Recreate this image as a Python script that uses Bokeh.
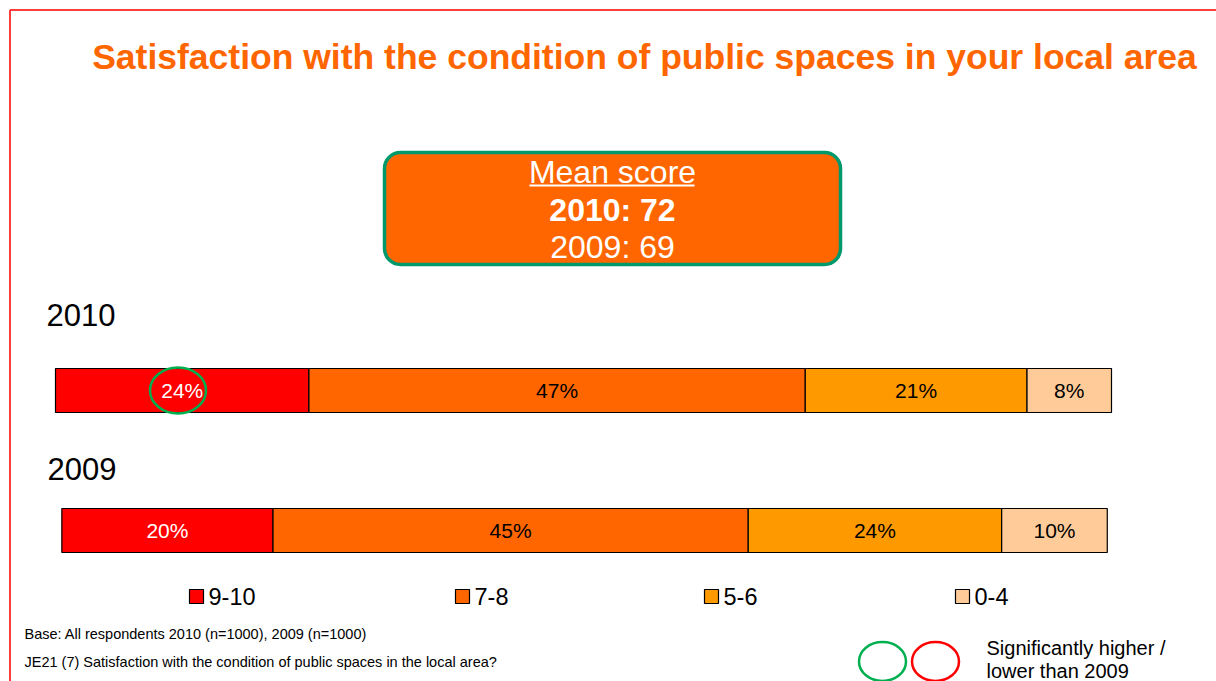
from bokeh.plotting import figure
from bokeh.models import Range1d, BoxAnnotation
from bokeh.embed import file_html
from bokeh.resources import INLINE
from bokeh.core.properties import value

# ---------------- data ----------------
years = ["2010", "2009"]
bands = ["9-10", "7-8", "5-6", "0-4"]
v_9_10 = [24, 20]
v_7_8 = [47, 45]
v_5_6 = [21, 24]
v_0_4 = [8, 10]
band_colors = ["#FF0000", "#FF6600", "#FF9900", "#FFCC99"]
label_colors = ["white", "black", "black", "black"]
mean_2010 = 72
mean_2009 = 69
title = "Satisfaction with the condition of public spaces in your local area"
base_note = "Base: All respondents 2010 (n=1000), 2009 (n=1000)"
question_note = "JE21 (7) Satisfaction with the condition of public spaces in the local area?"
sig_note = ["Significantly higher /", "lower than 2009"]
sig_higher = [(0, 0)]  # (year index, band index)

# ---------------- layout helpers ----------------
W, H = 1216, 681
PX = 10.56  # pixels per percent
FONT = value("Liberation Sans")
bar_start = [0.0, 0.6]  # rounding remainder of each bar (percent)


def X(sx):
    return (sx - 55) / PX


def Y(sy):
    return H - sy


p = figure(width=W, height=H, x_range=Range1d(X(0), X(W)),
           y_range=Range1d(Y(H), Y(0)), output_backend="svg",
           toolbar_location=None, min_border=0,
           x_axis_location=None, y_axis_location=None)
p.grid.visible = False
p.outline_line_color = None
p.background_fill_color = "white"

# slide border (top and left)
p.segment(x0=[X(9.5), X(9.5)], y0=[Y(9.5), Y(9.5)],
          x1=[X(1216), X(9.5)], y1=[Y(9.5), Y(681)],
          line_color="#FF0000", line_width=1.5)

# title
p.text(x=[X(644)], y=[Y(56)], text=[title], text_font=FONT,
       text_font_size="35.5px", text_font_style="bold", text_color="#FF6600",
       text_align="center", text_baseline="middle")

# mean score box
box = BoxAnnotation(left=X(384), right=X(840), top=Y(152), bottom=Y(264),
                    fill_color="#FF6600", fill_alpha=1.0,
                    line_color="#00996B", line_alpha=1.0, line_width=3.5,
                    border_radius=16, level="underlay")
p.add_layout(box)
cx = X(612)
p.text(x=[cx], y=[Y(171)], text=["Mean score"], text_font=FONT,
       text_font_size="32px", text_color="white", text_align="center",
       text_baseline="middle")
p.segment(x0=[X(529)], y0=[Y(185)], x1=[X(694)], y1=[Y(185)],
          line_color="white", line_width=2)
p.text(x=[cx], y=[Y(209)], text=[f"2010: {mean_2010}"], text_font=FONT,
       text_font_size="32px", text_font_style="bold", text_color="white",
       text_align="center", text_baseline="middle")
p.text(x=[cx], y=[Y(246)], text=[f"2009: {mean_2009}"], text_font=FONT,
       text_font_size="32px", text_color="white", text_align="center",
       text_baseline="middle")

# year labels
year_label_y = [Y(314), Y(468)]
p.text(x=[X(46), X(47)], y=year_label_y, text=years, text_font=FONT,
       text_font_size="31px", text_color="black", text_align="left",
       text_baseline="middle")

# stacked bars
bar_y = [Y(390), Y(530)]
series = [v_9_10, v_7_8, v_5_6, v_0_4]
for i in range(len(years)):
    left = bar_start[i]
    for b, vals in enumerate(series):
        v = vals[i]
        p.hbar(y=[bar_y[i]], left=[left], right=[left + v], height=44,
               fill_color=band_colors[b], line_color="black", line_width=1.2)
        p.text(x=[left + v / 2], y=[bar_y[i]], text=[f"{v}%"], text_font=FONT,
               text_font_size="21px", text_color=label_colors[b],
               text_align="center", text_baseline="middle")
        if (i, b) in sig_higher:
            p.ellipse(x=[left + v / 2 - 0.4], y=[bar_y[i]], width=56, height=46,
                      width_units="screen", height_units="screen",
                      fill_color=None, line_color="#00B050", line_width=2.5)
        left += v

# legend
leg_sq = [196, 462, 711, 962]
leg_y = Y(596)
p.rect(x=[X(s) for s in leg_sq], y=[leg_y] * 4, width=14, height=14,
       width_units="screen", height_units="screen", fill_color=band_colors,
       line_color="black", line_width=1.2)
p.text(x=[X(s + 12) for s in leg_sq], y=[leg_y] * 4, text=bands,
       text_font=FONT, text_font_size="23.5px", text_color="black",
       text_align="left", text_baseline="middle")

# footnotes
p.text(x=[X(24), X(24)], y=[Y(633), Y(661)], text=[base_note, question_note],
       text_font=FONT, text_font_size="14.5px", text_color="black",
       text_align="left", text_baseline="middle")

# significance legend
p.ellipse(x=[X(882), X(935)], y=[Y(661), Y(661)], width=47, height=39,
          width_units="screen", height_units="screen", fill_color=None,
          line_color=["#00B050", "#FF0000"], line_width=2.5)
p.text(x=[X(986), X(986)], y=[Y(647), Y(670)], text=sig_note, text_font=FONT,
       text_font_size="20px", text_color="black", text_align="left",
       text_baseline="middle")

open("out.html", "w").write(file_html(p, INLINE))
